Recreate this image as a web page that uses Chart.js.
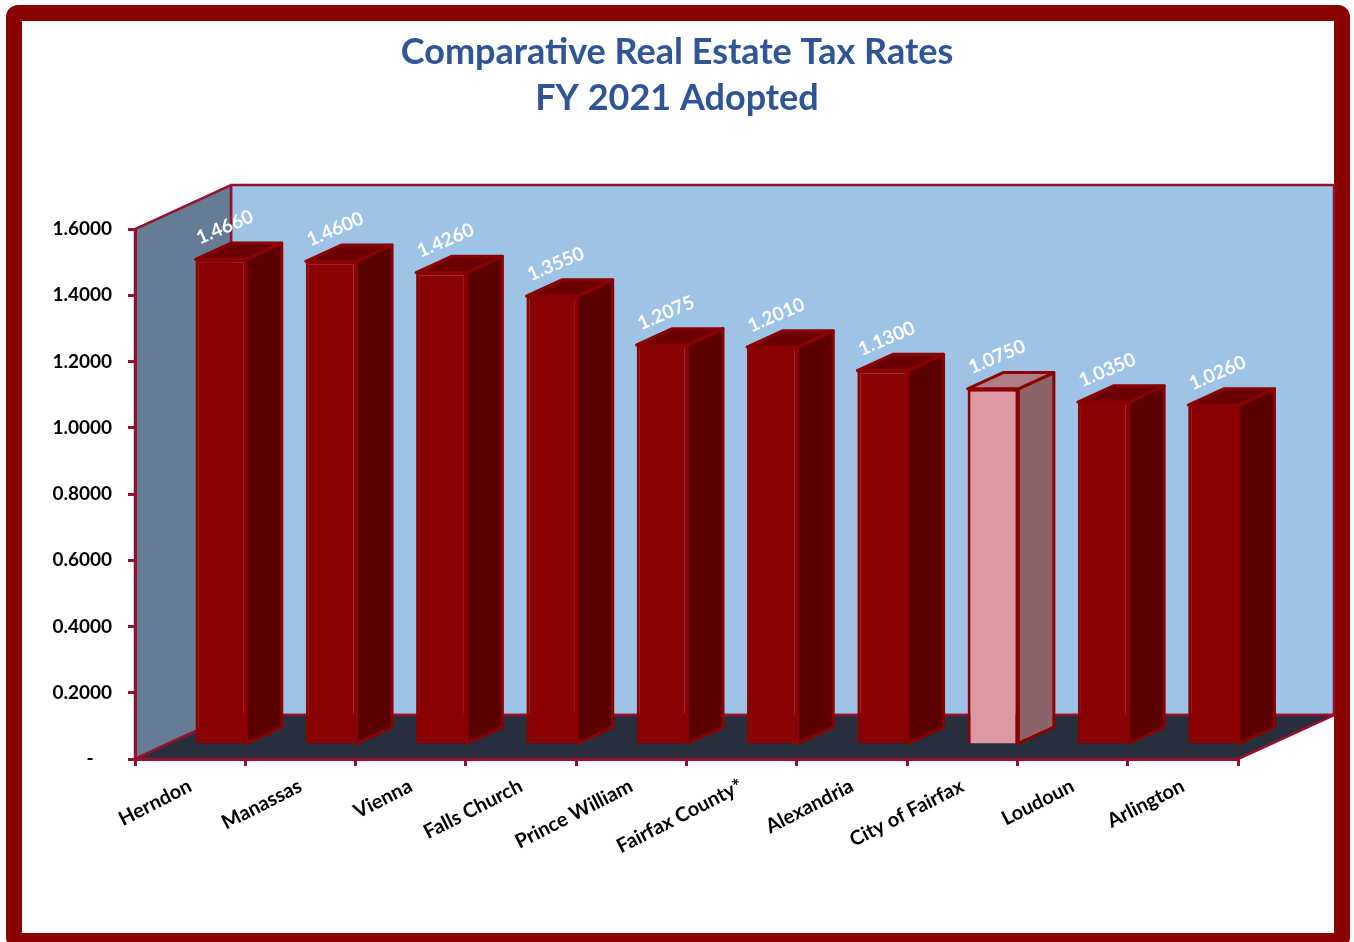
<!DOCTYPE html>
<html lang="en">
<head>
  <meta charset="UTF-8">
  <title>Comparative Real Estate Tax Rates</title>
  <script src="https://cdn.jsdelivr.net/npm/chart.js"></script>
  <style>
    html, body {
      margin: 0;
      padding: 0;
      background: #fff;
    }
    body {
      width: 1354px;
      height: 942px;
      position: relative;
      overflow: hidden;
    }
    .frame {
      position: absolute;
      left: 6px;
      top: 5px;
      width: 1344px;
      height: 944px;
      box-sizing: border-box;
      border: 16px solid #8b0000;
      border-radius: 12px;
      background: #fff;
    }
    #taxChart {
      position: absolute;
      left: 0;
      top: 0;
    }
  </style>
</head>
<body>
  <div class="frame"></div>
  <canvas id="taxChart" width="1354" height="942"></canvas>

  <script>
    const localities = ['Herndon', 'Manassas', 'Vienna', 'Falls Church', 'Prince William',
      'Fairfax County*', 'Alexandria', 'City of Fairfax', 'Loudoun', 'Arlington'];
    const taxRates = [1.4660, 1.4600, 1.4260, 1.3550, 1.2075, 1.2010, 1.1300, 1.0750, 1.0350, 1.0260];
    const highlighted = 'City of Fairfax';
    const titleLines = ['Comparative Real Estate Tax Rates', 'FY 2021 Adopted'];

    // fake 3d: how far the back wall sits behind the front plane
    const WALL_DX = 96, WALL_DY = -44;
    const BAR_POS = 0.32;    // bars stand this far into the floor
    const BAR_DEPTH = 0.37;  // and are this deep
    const EDGE = '#93112e';

    function poly(ctx, pts, fill) {
      ctx.beginPath();
      ctx.moveTo(pts[0][0], pts[0][1]);
      for (let i = 1; i < pts.length; i++) ctx.lineTo(pts[i][0], pts[i][1]);
      ctx.closePath();
      ctx.fillStyle = fill;
      ctx.fill();
      ctx.stroke();
    }

    const walls = {
      id: 'walls',
      beforeDraw(chart) {
        const { ctx, chartArea: a } = chart;
        const dx = WALL_DX, dy = WALL_DY;
        ctx.save();
        ctx.lineWidth = 2.5;
        ctx.strokeStyle = EDGE;
        ctx.lineJoin = 'round';
        poly(ctx, [[a.left + dx, a.top + dy], [a.right + dx, a.top + dy],
          [a.right + dx, a.bottom + dy], [a.left + dx, a.bottom + dy]], '#9dc3e6');
        poly(ctx, [[a.left, a.top], [a.left + dx, a.top + dy],
          [a.left + dx, a.bottom + dy], [a.left, a.bottom]], '#657c94');
        poly(ctx, [[a.left, a.bottom], [a.left + dx, a.bottom + dy],
          [a.right + dx, a.bottom + dy], [a.right, a.bottom]], '#262f3b');
        ctx.restore();
      }
    };

    const boxes = {
      id: 'boxes',
      beforeDatasetDraw(chart) {
        chart.ctx.save();
        chart.ctx.translate(WALL_DX * BAR_POS, WALL_DY * BAR_POS);
      },
      afterDatasetDraw(chart, args) {
        const ctx = chart.ctx;
        const ex = WALL_DX * BAR_DEPTH, ey = WALL_DY * BAR_DEPTH;
        ctx.lineWidth = 3;
        ctx.strokeStyle = '#8b0000';
        ctx.lineJoin = 'round';
        args.meta.data.forEach((bar, i) => {
          const { x, y, base, width } = bar.getProps(['x', 'y', 'base', 'width'], true);
          const l = x - width / 2, r = x + width / 2;
          const hi = localities[i] === highlighted;
          poly(ctx, [[r, y], [r + ex, y + ey], [r + ex, base + ey], [r, base]], hi ? '#8e646b' : '#5a0000');
          poly(ctx, [[l, y], [l + ex, y + ey], [r + ex, y + ey], [r, y]], hi ? '#b07c85' : '#6b0000');
        });
        ctx.restore();
      },
      afterDatasetsDraw(chart) {
        const ctx = chart.ctx;
        chart.getDatasetMeta(0).data.forEach((bar, i) => {
          ctx.save();
          ctx.translate(bar.x + WALL_DX * BAR_POS + 4, bar.y + WALL_DY * BAR_POS - 32);
          ctx.rotate(-23 * Math.PI / 180);
          ctx.font = 'bold 19px Lato';
          ctx.fillStyle = '#fff';
          ctx.textAlign = 'center';
          ctx.textBaseline = 'middle';
          ctx.fillText(taxRates[i].toFixed(4), 0, 0);
          ctx.restore();
        });
      }
    };

    new Chart(document.getElementById('taxChart'), {
      type: 'bar',
      data: {
        labels: localities,
        datasets: [{
          data: taxRates,
          backgroundColor: c => localities[c.index] === highlighted ? '#dc98a3' : '#8b0000',
          borderColor: '#8b0000',
          borderWidth: 3,
          categoryPercentage: 1,
          barPercentage: 0.46,
          clip: false
        }]
      },
      options: {
        responsive: false,
        animation: false,
        plugins: {
          legend: { display: false },
          tooltip: { enabled: false },
          title: {
            display: true,
            text: titleLines,
            color: '#2f5597',
            font: { family: 'Lato', size: 36, weight: 'bold', lineHeight: 1.278 },
            padding: { top: 29, bottom: 108 }
          }
        },
        scales: {
          x: {
            grid: { offset: true, drawOnChartArea: false, tickLength: 7, color: EDGE, lineWidth: 3 },
            border: { color: EDGE, width: 3 },
            ticks: {
              color: '#000',
              font: { family: 'Lato', size: 20, weight: 'bold' },
              minRotation: 27,
              maxRotation: 27,
              autoSkip: false,
              padding: 8
            },
            afterFit: s => { s.height = 183; }
          },
          y: {
            min: 0,
            max: 1.6,
            grid: { drawOnChartArea: false, tickLength: 7, color: EDGE, lineWidth: 3 },
            border: { color: EDGE, width: 3 },
            ticks: {
              stepSize: 0.2,
              color: '#000',
              font: { family: 'Lato', size: 19, weight: 'bold' },
              padding: 16,
              callback: v => v === 0 ? '-    ' : v.toFixed(4)
            },
            afterFit: s => { s.width = 135; }
          },
          // empty right-hand axis, only keeps room for the back wall
          yRoom: {
            position: 'right',
            grid: { display: false },
            border: { display: false },
            ticks: { display: false },
            afterFit: s => { s.width = 116; }
          }
        }
      },
      plugins: [walls, boxes]
    });
  </script>
</body>
</html>
